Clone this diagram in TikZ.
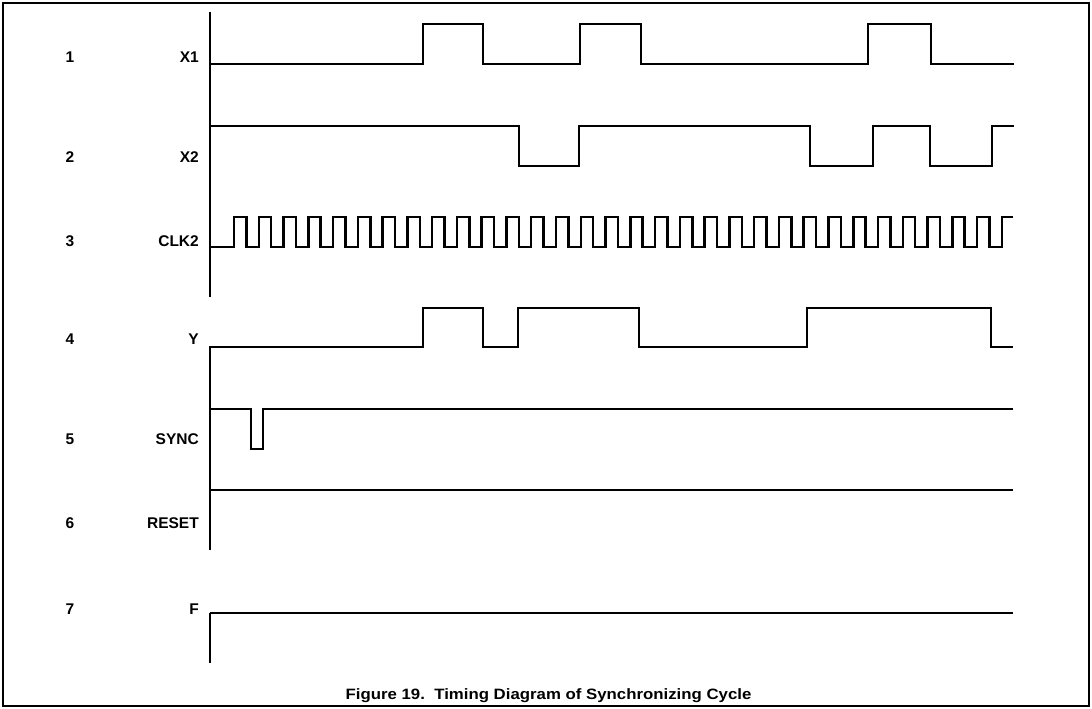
\documentclass[tikz,border=0pt]{standalone}
\usepackage{fontspec}
\usepackage{graphicx}
\setmainfont{Liberation Sans}
\begin{document}
\begin{tikzpicture}[x=1pt,y=-1pt,
  wave/.style={line width=2.5pt,line join=miter},
  axisline/.style={line width=2.8pt},
  lbl/.style={font=\fontsize{15.5}{18}\selectfont\bfseries,inner sep=0pt},
  nam/.style={lbl,anchor=east},
  captext/.style={font=\fontsize{15}{18}\selectfont\bfseries,inner sep=0pt}]
\useasboundingbox (0,0) rectangle (1092,709);
\draw[line width=2.2pt] (3,3) rectangle (1089,706);
% axes
\draw[axisline] (210,12) -- (210,297);
\draw[axisline] (210,346) -- (210,550);
\draw[axisline] (210,613) -- (210,663);
% labels
\node[lbl] (n1) at (70,57) {1};
\node[lbl] (n2) at (70,157) {2};
\node[lbl] (n3) at (70,241) {3};
\node[lbl] (n4) at (70,339) {4};
\node[lbl] (n5) at (70,439) {5};
\node[lbl] (n6) at (70,523) {6};
\node[lbl] (n7) at (70,609) {7};
\node[nam] (s1) at (199,57) {X1};
\node[nam] (s2) at (199,157) {X2};
\node[nam] (s3) at (199,241) {CLK2};
\node[nam] (s4) at (199,339) {Y};
\node[nam] (s5) at (199,439) {SYNC};
\node[nam] (s6) at (199,523) {RESET};
\node[nam] (s7) at (199,609) {F};
% X1
\draw[wave] (210,64) -| (423,24) -| (483,64) -| (580,24) -| (641,64) -| (868,24) -| (931,64) -- (1014,64);
% X2
\draw[wave] (210,126) -| (519,166) -| (579,126) -| (810,166) -| (873,126) -| (930,166) -| (992,126) -- (1014,126);
% CLK2
\draw[wave] (210,247) \foreach \k in {0,...,30}{ -- ({234+24.77*\k},247) -- ({234+24.77*\k},217) -- ({246.4+24.77*\k},217) -- ({246.4+24.77*\k},247)} -- (1002,247) -- (1002,217) -- (1013,217);
% Y
\draw[wave] (210,347) -| (423,308) -| (483,347) -| (518,308) -| (639,347) -| (807,308) -| (991,347) -- (1013,347);
% SYNC
\draw[wave] (210,409) -| (251,449) -| (263,409) -- (1013,409);
% RESET
\draw[wave] (210,490) -- (1013,490);
% F
\draw[wave] (210,613) -- (1013,613);
% caption
\node[captext] (caption) at (548.5,696) {\scalebox{1.12}[1]{Figure 19.\ \ Timing Diagram of Synchronizing Cycle}};
\end{tikzpicture}
\end{document}
